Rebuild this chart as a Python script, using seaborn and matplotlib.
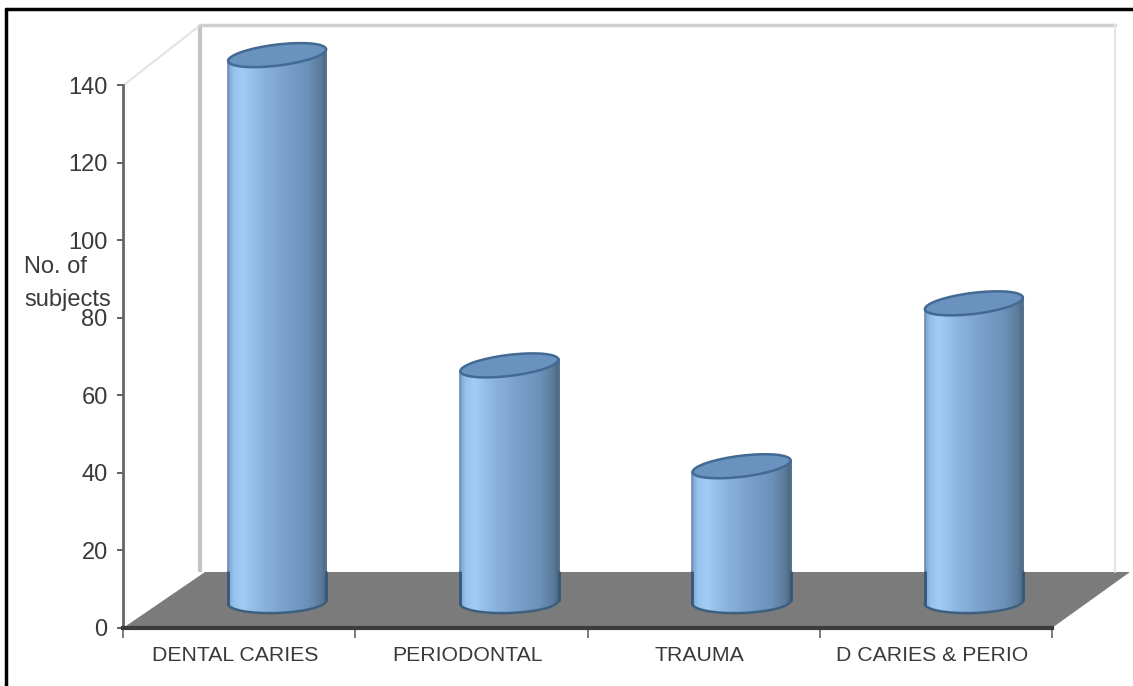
import numpy as np
import pandas as pd
import matplotlib
matplotlib.use("Agg")
import matplotlib.pyplot as plt
import seaborn as sns
from matplotlib.colors import LinearSegmentedColormap
from matplotlib.patches import Arc, Ellipse, Polygon
from matplotlib.transforms import Affine2D

categories = ["DENTAL CARIES", "PERIODONTAL", "TRAUMA", "D CARIES & PERIO"]
subjects = [141, 61, 35, 77]
y_ticks = [0, 20, 40, 60, 80, 100, 120, 140]

W, H = 1133, 686
sns.set_theme(style="white")
plt.rcParams['font.family'] = ['Liberation Sans', 'DejaVu Sans']

fig = plt.figure(figsize=(W / 100, H / 100), dpi=100, facecolor="white")

# pixel-space layers for the fake 3d box and the cylinder caps
bg = fig.add_axes([0, 0, 1, 1], zorder=0)
bg.set_xlim(0, W)
bg.set_ylim(H, 0)
bg.axis("off")
over = fig.add_axes([0, 0, 1, 1], zorder=2)
over.set_xlim(0, W)
over.set_ylim(H, 0)
over.axis("off")
over.patch.set_alpha(0)

ax = fig.add_axes([123 / W, (H - 628) / H, 929 / W, 543 / H], zorder=1)
ax.patch.set_alpha(0)

# box walls and floor
bg.plot([200, 200], [25, 572], color="#c4c4c4", lw=3, solid_capstyle="butt")
bg.plot([200, 1115], [25, 25], color="#cfcfcf", lw=2.5)
bg.plot([1115, 1115], [25, 572], color="#e4e4e4", lw=1.5)
bg.plot([125, 198], [84, 27], color="#e4e4e4", lw=1.6)
bg.add_patch(Polygon([(123, 628), (1052, 628), (1130, 572), (205, 572)],
                     closed=True, facecolor="#7b7b7b", edgecolor="none"))
# picture frame
bg.plot([6, 6], [9, H], color="black", lw=2.5)
bg.plot([6, W], [9, 9], color="black", lw=2.5)

df = pd.DataFrame({"category": categories, "subjects": subjects})
sns.barplot(data=df, x="category", y="subjects", width=0.425, color="#85add8",
            linewidth=0, ax=ax)
ax.set_xlim(-0.5, 3.5)
ax.set_ylim(0, 140)

shade = LinearSegmentedColormap.from_list("cyl", [
    (0.00, "#7aa2cc"), (0.05, "#94c0ec"), (0.14, "#a2ccf5"), (0.35, "#8ab3de"),
    (0.60, "#779fca"), (0.80, "#6c92ba"), (0.94, "#5d7c9c"), (1.00, "#4a6680"),
])
ramp = np.linspace(0, 1, 200).reshape(1, -1)
shift = Affine2D().translate(38, 26)
data_shift = ax.transData + shift
to_over = over.transData.inverted()
fig.canvas.draw()

cap_tilt, foot_tilt = 6, 2

for bar, val in zip(ax.patches, subjects):
    bar.set_transform(data_shift)
    x0, x1 = bar.get_x(), bar.get_x() + bar.get_width()

    left = to_over.transform(data_shift.transform((x0, 0)))[0]
    right = to_over.transform(data_shift.transform((x1, 0)))[0]
    top = to_over.transform(data_shift.transform(((x0 + x1) / 2, val)))
    base = to_over.transform(data_shift.transform(((x0 + x1) / 2, 0)))
    width_px = right - left

    # body outline follows the tilted cap and foot
    body = Polygon([(left, top[1] + cap_tilt), (right, top[1] - cap_tilt),
                    (right, base[1] - foot_tilt), (left, base[1] + foot_tilt)],
                   closed=True, facecolor="none", edgecolor="none")
    over.add_patch(body)
    bar.set_clip_path(body)
    bar.set_clip_box(fig.bbox)
    im = ax.imshow(ramp, cmap=shade, aspect="auto", extent=(x0, x1, -1, val + 3),
                   transform=data_shift, zorder=2, interpolation="bilinear")
    im.set_clip_path(body)
    im.set_clip_box(fig.bbox)

    # rounded foot of the cylinder
    foot = Ellipse(base, width_px, 22, angle=-2, facecolor="none", edgecolor="none")
    over.add_patch(foot)
    im2 = ax.imshow(ramp, cmap=shade, aspect="auto", extent=(x0, x1, -6, 6),
                    transform=data_shift, zorder=2, interpolation="bilinear")
    im2.set_clip_path(foot)
    im2.set_clip_box(fig.bbox)
    over.add_patch(Arc(base, width_px, 22, angle=-2, theta1=0, theta2=180,
                       color="#3d607f", lw=1.8, zorder=2))

    # side lines, darker where they cross the floor
    over.plot([left, left], [top[1] + cap_tilt, 572], color="#6d8cac", lw=1.2, zorder=2)
    over.plot([right, right], [top[1] - cap_tilt, 572], color="#55718c", lw=1.4, zorder=2)
    over.plot([left, left], [572, base[1] + foot_tilt], color="#35587a", lw=2, zorder=2)
    over.plot([right, right], [572, base[1] - foot_tilt], color="#35587a", lw=2, zorder=2)

    # top cap
    over.add_patch(Ellipse(top, width_px, 21, angle=-7, facecolor="#6a92bf",
                           edgecolor="#436a94", lw=1.8, zorder=3))

over.set_xlim(0, W)
over.set_ylim(H, 0)
ax.set_xlim(-0.5, 3.5)
ax.set_ylim(0, 140)

# axes
ax.set_xlabel("")
ax.set_ylabel("")
ax.set_yticks(y_ticks)
ax.set_xticks(range(len(categories)))
ax.set_xticklabels(categories, fontsize=15.3, color="#3a3a3a")
ax.set_xticks(np.arange(-0.5, 4), minor=True)
ax.tick_params(axis="x", which="major", length=0, pad=13)
ax.tick_params(axis="x", which="minor", length=7, width=1.2, color="#666666", bottom=True)
ax.tick_params(axis="y", length=4.5, width=1.3, color="#555555", labelsize=17,
               labelcolor="#3a3a3a", pad=6.5, left=True)
# labels sit a little left of the tick centres
for label in ax.get_xticklabels():
    label.set_transform(label.get_transform() + Affine2D().translate(-4, 0))
sns.despine(ax=ax, top=True, right=True)
ax.spines["left"].set_color("#666666")
ax.spines["left"].set_linewidth(2)
ax.spines["bottom"].set_color("#3c3c3c")
ax.spines["bottom"].set_linewidth(3)

fig.text(24 / W, 1 - 267 / H, "No. of", fontsize=17, color="#3a3a3a", va="center", ha="left")
fig.text(24 / W, 1 - 300 / H, "subjects", fontsize=17, color="#3a3a3a", va="center", ha="left")

fig.savefig("out.png", dpi=100)
